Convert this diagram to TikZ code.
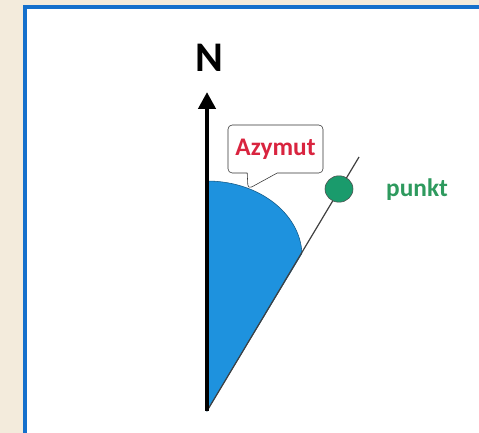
\documentclass[tikz,border=0pt]{standalone}
\usepackage{fontspec}
\setmainfont{Carlito}
\usepackage{xcolor}
\usepackage{tikz}
\usetikzlibrary{arrows.meta, positioning, shapes.geometric, shapes.callouts}

\definecolor{paper}{HTML}{F3EBDC}
\definecolor{framebl}{HTML}{1570CC}
\definecolor{sectorbl}{HTML}{1E92DE}
\definecolor{azred}{HTML}{D9243F}
\definecolor{ptgreen}{HTML}{2E9A5E}
\definecolor{dotgreen}{HTML}{1A9B6C}

\begin{document}
\begin{tikzpicture}[
  x=0.025cm, y=0.025cm,
  north/.style={-{Triangle[length=0.42cm,width=0.42cm]}, line width=1.1mm},
  ray/.style={draw=black!75, line width=0.3mm},
  bubble/.style={rectangle callout, draw=black!80, fill=white, rounded corners=3pt,
                 minimum width=2.375cm, minimum height=1.2cm, thin,
                 callout pointer width=0.75cm,
                 font=\bfseries\fontsize{18}{21}\selectfont, text=azred},
  dot/.style={ellipse, draw=black!70, fill=dotgreen, minimum width=0.7cm,
              minimum height=0.66cm, inner sep=0pt},
  label/.style={font=\bfseries\fontsize{18}{21}\selectfont, text=ptgreen},
  node distance=0.3cm
]
  \useasboundingbox (0,0) rectangle (479,433);
  \fill[paper] (0,0) rectangle (479,433);
  \clip (0,0) rectangle (479,433);
  \draw[framebl, line width=1mm, fill=white] (25,-20) rectangle (500,426);

  \coordinate (o)    at (207,22);
  \coordinate (top)  at (207,341);
  \coordinate (end)  at (359,276);
  \coordinate (tip)  at (248,244);

  % blue sector between north and the ray
  \filldraw[fill=sectorbl, draw=sectorbl!60!black, thin]
    (o) -- (207,252) arc[start angle=90, end angle=2, x radius=95, y radius=75] -- cycle;

  \draw[ray] (o) -- (end);
  \node[dot] (pt) at (339,244) {};
  \node[label] (punkt) at (417,243) {punkt};

  \draw[north] (o) -- (top);
  \node[font=\bfseries\fontsize{30}{33}\selectfont, above=0.4cm of top, xshift=0.05cm] (n) {N};

  \node[bubble, callout absolute pointer={(tip)}] (azymut) at (275.5,284) {Azymut};
\end{tikzpicture}
\end{document}
